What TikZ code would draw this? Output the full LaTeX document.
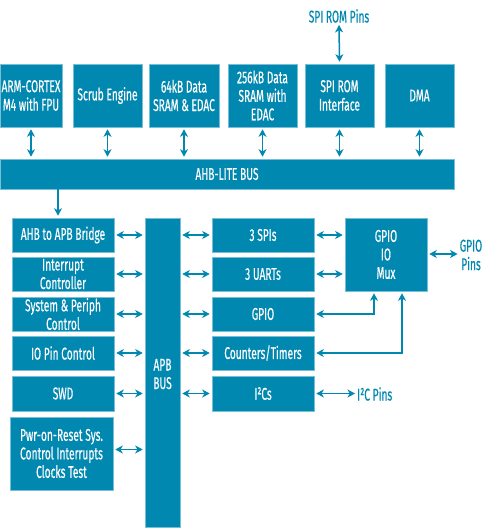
\documentclass[tikz,border=0pt]{standalone}
\usepackage{fontspec}
\setmainfont{Fira Sans}[FakeStretch=0.6,FakeBold=0.4]
\usetikzlibrary{arrows.meta,calc}
\definecolor{tiblue}{RGB}{0,136,176}
\definecolor{tiedge}{RGB}{120,190,215}
\tikzset{
  box/.style={draw=tiedge, line width=0.6pt, fill=tiblue, text=white, align=center,
    inner sep=0pt, font=\fontsize{17}{18.5}\selectfont},
  lbl/.style={text=tiblue, align=center, inner sep=0pt, font=\fontsize{17}{18.5}\selectfont},
  arr/.style={tiblue, line width=1.5pt, {Stealth[length=7.5pt,width=8pt,inset=2.2pt]}-{Stealth[length=7.5pt,width=8pt,inset=2.2pt]}, shorten <=2pt, shorten >=2pt},
  sarr/.style={tiblue, line width=1.5pt, -{Stealth[length=7.5pt,width=8pt,inset=2.2pt]}, shorten >=2pt},
}
\newcommand{\bx}[6]{% name, x1, y1, x2, y2, text
  \node[box, minimum width={(#4-#2)*1pt}, minimum height={(#5-#3)*1pt}] (#1) at ({(#2+#4)/2},{(#3+#5)/2}) {#6};}
\begin{document}
\begin{tikzpicture}[x=1pt,y=-1pt]
\useasboundingbox (0,0) rectangle (500,529);
% top row
\bx{arm}{0}{64}{62}{127}{ARM-CORTEX\\M4 with FPU}
\bx{scrub}{73}{64}{142}{127}{Scrub Engine}
\bx{dsa}{149}{64}{219}{127}{64kB Data\\SRAM \& EDAC}
\bx{dsb}{228}{64}{297}{127}{256kB Data\\SRAM with\\EDAC}
\bx{spirom}{305}{64}{374}{127}{SPI ROM\\Interface}
\bx{dma}{385}{64}{454}{127}{DMA}
\bx{ahb}{0}{159}{454}{189}{AHB-LITE BUS}
% left column
\bx{bridge}{12}{218}{114}{252}{AHB to APB Bridge}
\bx{intc}{12}{257}{114}{291}{Interrupt\\Controller}
\bx{sysc}{12}{297}{114}{331}{System \& Periph\\Control}
\bx{iopin}{12}{336}{114}{370}{IO Pin Control}
\bx{swd}{12}{376}{114}{411}{SWD}
\bx{pwr}{10}{417}{113}{490}{Pwr-on-Reset Sys.\\Control Interrupts\\Clocks Test}
% APB bus
\bx{apb}{145}{218}{180}{527}{}
\node[lbl, text=white] (apbt) at (162.5,374) {APB\\BUS};
% middle column
\bx{spis}{212}{218}{314}{252}{3 SPIs}
\bx{uarts}{212}{257}{314}{291}{3 UARTs}
\bx{gpio}{212}{297}{314}{331}{GPIO}
\bx{ctr}{212}{336}{314}{370}{Counters/Timers}
\bx{i2c}{212}{376}{314}{411}{I²Cs}
\bx{mux}{345}{218}{427}{291}{GPIO\\IO\\Mux}
% labels
\node[lbl] (spipins) at (339,16) {SPI ROM Pins};
\node[lbl] (gpiopins) at (471,255) {GPIO\\Pins};
\node[lbl, anchor=west] (i2cpins) at (357,394) {I²C Pins};
% arrows top
\foreach \n in {arm,scrub,dsa,dsb,spirom,dma}
  \draw[arr] (\n.south) -- (\n.south |- ahb.north);
\draw[arr] (spipins.south) -- (spirom.north);
\draw[sarr] ([xshift=-5pt]bridge.north |- ahb.south) -- ([xshift=-5pt]bridge.north);
% left arrows
\foreach \n in {bridge,intc,sysc,iopin,swd}
  \draw[arr] (\n.east) -- (\n.east -| apb.west);
\draw[arr] ([yshift=4pt]pwr.east) -- ([yshift=4pt]pwr.east -| apb.west);
% right arrows
\foreach \n in {spis,uarts,gpio,ctr,i2c}
  \draw[arr] (\n.west -| apb.east) -- (\n.west);
\draw[arr] (spis.east) -- (spis.east -| mux.west);
\draw[arr] (uarts.east) -- (uarts.east -| mux.west);
\draw[arr] (gpio.east) -| ([xshift=-12pt]mux.south);
\draw[arr] (ctr.east) -| ([xshift=16pt]mux.south);
\draw[arr] (mux.east |- 0,254) -- (gpiopins.west |- 0,254);
\draw[arr] (i2c.east) -- (i2c.east -| i2cpins.west);
\end{tikzpicture}
\end{document}
